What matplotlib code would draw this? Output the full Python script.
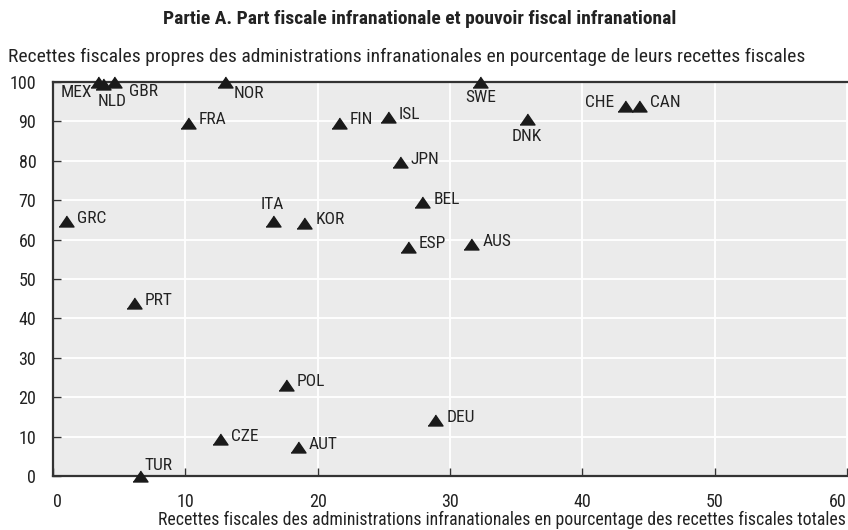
import numpy as np
import matplotlib
matplotlib.use("Agg")
import matplotlib.pyplot as plt
from matplotlib import font_manager

# -----------------------------
# Data
# -----------------------------
countries = ["MEX", "NLD", "GBR", "NOR", "FRA", "SWE", "FIN", "ISL", "DNK", "CHE", "CAN",
             "JPN", "BEL", "ITA", "KOR", "GRC", "ESP", "AUS", "PRT", "POL", "DEU",
             "CZE", "AUT", "TUR"]
tax_share = [3.4, 3.8, 4.6, 13.0, 10.2, 32.3, 21.6, 25.3, 35.8, 43.2, 44.3,
             26.2, 27.9, 16.6, 19.0, 1.0, 26.8, 31.6, 6.1, 17.6, 28.9,
             12.6, 18.5, 6.6]
tax_autonomy = [100.0, 99.4, 100.0, 100.0, 89.7, 99.9, 89.7, 91.0, 90.6, 94.0, 94.0,
                79.6, 69.5, 64.6, 64.3, 64.6, 58.2, 58.8, 43.9, 23.2, 14.1,
                9.3, 7.3, 0.0]

# label placement: (dx, dy) in pixels, horizontal alignment
label_pos = {
    "MEX": (-6, -10, "right"),
    "NLD": (-6, -17, "left"),
    "GBR": (15, -9, "left"),
    "NOR": (9, -11, "left"),
    "SWE": (0, -15, "center"),
    "DNK": (0, -17, "center"),
    "CHE": (-11, 3, "right"),
    "ITA": (0, 17, "center"),
    "TUR": (4, 11, "left"),
}

# -----------------------------
# Style
# -----------------------------
names = {f.name for f in font_manager.fontManager.ttflist}
font = "Roboto Condensed" if "Roboto Condensed" in names else "Liberation Sans"
plt.rcParams["font.family"] = [font, "DejaVu Sans"]
plt.rcParams["font.size"] = 12.5

text_color = "#222222"
bg_color = "#ebebeb"
spine_color = "#333333"

fig = plt.figure(figsize=(8.48, 5.30), dpi=100)
ax = fig.add_axes([53 / 848, 1 - 476 / 530, 794 / 848, 394 / 530])
ax.set_facecolor(bg_color)

tri = [(-1, -0.73), (1, -0.73), (0, 0.73)]
ax.plot(tax_share, tax_autonomy, linestyle="none", marker=tri, markersize=10.8,
        color="#1a1a1a", clip_on=False, zorder=3)

for name, x, y in zip(countries, tax_share, tax_autonomy):
    dx, dy, ha = label_pos.get(name, (11, 3, "left"))
    ax.annotate(name, (x, y), xytext=(dx, dy), textcoords="offset pixels",
                ha=ha, va="center", fontsize=12.5, color=text_color, zorder=4)

ax.set_xlim(0, 60)
ax.set_ylim(0, 100)
ax.set_xticks(np.arange(0, 61, 10))
ax.set_yticks(np.arange(0, 101, 10))
ax.grid(True, color="white", linewidth=1.3)
ax.set_axisbelow(True)

ax.tick_params(direction="in", length=6, width=1, color=spine_color,
               labelsize=13, labelcolor=text_color)
ax.tick_params(axis="y", pad=12)
ax.tick_params(axis="x", pad=12)
xlabels = ax.get_xticklabels()
xlabels[0].set_ha("left")
xlabels[-1].set_ha("right")

for side in ["left", "top", "bottom"]:
    ax.spines[side].set_color(spine_color)
    ax.spines[side].set_linewidth(1.6)
ax.spines["right"].set_visible(False)

fig.text(420 / 848, 1 - 19 / 530, "Partie A. Part fiscale infranationale et pouvoir fiscal infranational",
         ha="center", va="center", fontsize=14, fontweight="bold", color=text_color)
fig.text(8 / 848, 1 - 57 / 530,
         "Recettes fiscales propres des administrations infranationales en pourcentage de leurs recettes fiscales",
         ha="left", va="center", fontsize=14, color=text_color)
fig.text(846 / 848, 1 - 520 / 530,
         "Recettes fiscales des administrations infranationales en pourcentage des recettes fiscales totales",
         ha="right", va="center", fontsize=12.8, color=text_color)

plt.savefig("out.png", dpi=100)
